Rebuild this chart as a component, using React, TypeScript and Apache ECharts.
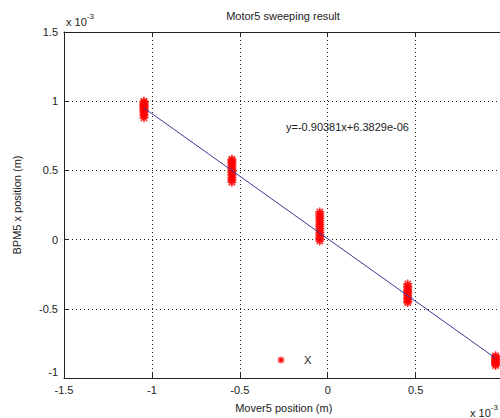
import React, { useEffect, useRef } from "react";
import * as echarts from "echarts";

// visible x tick labels (the label at 1 lies outside the picture in the reference)
const xTickValues = [-1.5, -1, -0.5, 0, 0.5];
const yTickValues = [-1, -0.5, 0, 0.5, 1, 1.5];

const clusterX = [-1.045, -0.545, -0.045, 0.455, 0.955];
const cluster1Y = [0.88, 0.895, 0.905, 0.92, 0.93, 0.94, 0.948, 0.957, 0.965, 0.972, 0.981, 0.99, 1.0];
const cluster2Y = [0.415, 0.43, 0.445, 0.46, 0.47, 0.485, 0.495, 0.51, 0.52, 0.535, 0.548, 0.56, 0.572, 0.58];
const cluster3Y = [-0.01, 0.005, 0.02, 0.035, 0.05, 0.065, 0.08, 0.095, 0.11, 0.125, 0.14, 0.155, 0.17, 0.185, 0.2];
const cluster4Y = [-0.455, -0.445, -0.43, -0.418, -0.405, -0.39, -0.378, -0.365, -0.35, -0.338, -0.32];
const cluster5Y = [-0.91, -0.9, -0.89, -0.882, -0.873, -0.865, -0.856, -0.848, -0.84];

const fitSlope = -0.90381;
const fitIntercept = 0.0063829; // in units of 1e-3
const fitRange = [-1.045, 0.955];

const seriesName = "X";
const titleText = "Motor5 sweeping result";
const xName = "Mover5 position (m)";
const yName = "BPM5 x position (m)";
const equationText = "y=-0.90381x+6.3829e-06";

const STAR = "path://M5,0L5,10M0,5L10,5M1.5,1.5L8.5,8.5M1.5,8.5L8.5,1.5";
const FONT = "'Liberation Sans', Arial, sans-serif";

export default function App() {
  const ref = useRef<HTMLDivElement>(null);
  useEffect(() => {
    document.body.style.margin = "0";
    const chart = echarts.init(ref.current!, undefined, { renderer: "svg" });
    const clusters = [cluster1Y, cluster2Y, cluster3Y, cluster4Y, cluster5Y];
    const points: number[][] = [];
    clusters.forEach((ys, i) => ys.forEach((y) => points.push([clusterX[i], y])));
    const fitLine = fitRange.map((x) => [x, fitSlope * x + fitIntercept]);

    const axisCommon = {
      axisLine: { show: true, onZero: false, lineStyle: { color: "#222", width: 1 } },
      axisTick: { show: true, inside: true, length: 5, lineStyle: { color: "#222" } },
    };

    chart.setOption({
      animation: false,
      backgroundColor: "#fff",
      textStyle: { fontFamily: FONT },
      grid: { left: 64, top: 32, width: 439.5, height: 346, show: false, containLabel: false, outerBoundsMode: "none" },
      xAxis: [
        {
          type: "value",
          min: -1.5,
          max: 1,
          interval: 0.5,
          ...axisCommon,
          axisLabel: { color: "#222", fontSize: 11, margin: 6, formatter: (v: number) => (xTickValues.includes(v) ? String(v) : "") },
          splitLine: { show: true, lineStyle: { color: "#222", type: [1, 3], width: 1 } },
          name: xName,
          nameLocation: "middle",
          nameGap: 24,
          nameTextStyle: { color: "#222", fontSize: 11 },
        },
        {
          type: "value",
          position: "top",
          min: -1.5,
          max: 1,
          interval: 0.5,
          ...axisCommon,
          axisLabel: { show: false },
          splitLine: { show: false },
        },
      ],
      yAxis: [
        {
          type: "value",
          min: -1,
          max: 1.5,
          interval: 0.5,
          ...axisCommon,
          axisLabel: {
            color: "#222",
            fontSize: 11,
            margin: 6,
            formatter: (v: number) => (v === -1 ? "{low|-1}" : yTickValues.includes(v) ? String(v) : ""),
            rich: { low: { fontSize: 11, color: "#222", padding: [0, 0, 12, 0] } },
          },
          splitLine: { show: true, lineStyle: { color: "#222", type: [1, 3], width: 1 } },
          name: yName,
          nameLocation: "middle",
          nameGap: 42,
          nameTextStyle: { color: "#222", fontSize: 11 },
        },
      ],
      series: [
        {
          name: seriesName,
          type: "scatter",
          data: points,
          symbol: STAR,
          symbolSize: 9,
          itemStyle: { color: "rgba(0,0,0,0)", borderColor: "#ff0000", borderWidth: 1.6 },
          z: 3,
        },
        {
          type: "line",
          data: fitLine,
          showSymbol: false,
          symbol: "none",
          lineStyle: { color: "#3a3a9a", width: 1 },
          z: 4,
        },
      ],
      graphic: [
        {
          type: "text",
          x: 283,
          y: 10,
          style: { text: titleText, fill: "#222", font: `11px ${FONT}`, textAlign: "center" },
        },
        {
          type: "text",
          x: 66,
          y: 12,
          style: {
            text: "{a|x 10}{b|-3}",
            fill: "#222",
            rich: {
              a: { fontSize: 11, fontFamily: FONT, fill: "#222", padding: [4, 0, 0, 0] },
              b: { fontSize: 8, fontFamily: FONT, fill: "#222", verticalAlign: "top" },
            },
          },
        },
        {
          type: "text",
          x: 470,
          y: 403,
          style: {
            text: "{a|x 10}{b|-3}",
            fill: "#222",
            rich: {
              a: { fontSize: 11, fontFamily: FONT, fill: "#222", padding: [4, 0, 0, 0] },
              b: { fontSize: 8, fontFamily: FONT, fill: "#222", verticalAlign: "top" },
            },
          },
        },
        {
          type: "text",
          x: 286,
          y: 121,
          style: { text: equationText, fill: "#222", font: `11px ${FONT}` },
        },
        {
          type: "group",
          x: 281,
          y: 360,
          children: [
            { type: "line", shape: { x1: -3.5, y1: 0, x2: 3.5, y2: 0 }, style: { stroke: "#ff0000", lineWidth: 1.2 } },
            { type: "line", shape: { x1: 0, y1: -3.5, x2: 0, y2: 3.5 }, style: { stroke: "#ff0000", lineWidth: 1.2 } },
            { type: "line", shape: { x1: -2.5, y1: -2.5, x2: 2.5, y2: 2.5 }, style: { stroke: "#ff0000", lineWidth: 1.2 } },
            { type: "line", shape: { x1: -2.5, y1: 2.5, x2: 2.5, y2: -2.5 }, style: { stroke: "#ff0000", lineWidth: 1.2 } },
          ],
        },
        {
          type: "text",
          x: 304,
          y: 354,
          style: { text: seriesName, fill: "#222", font: `11px ${FONT}` },
        },
      ],
    });
    return () => chart.dispose();
  }, []);
  return <div ref={ref} style={{ width: 500, height: 418 }} />;
}
